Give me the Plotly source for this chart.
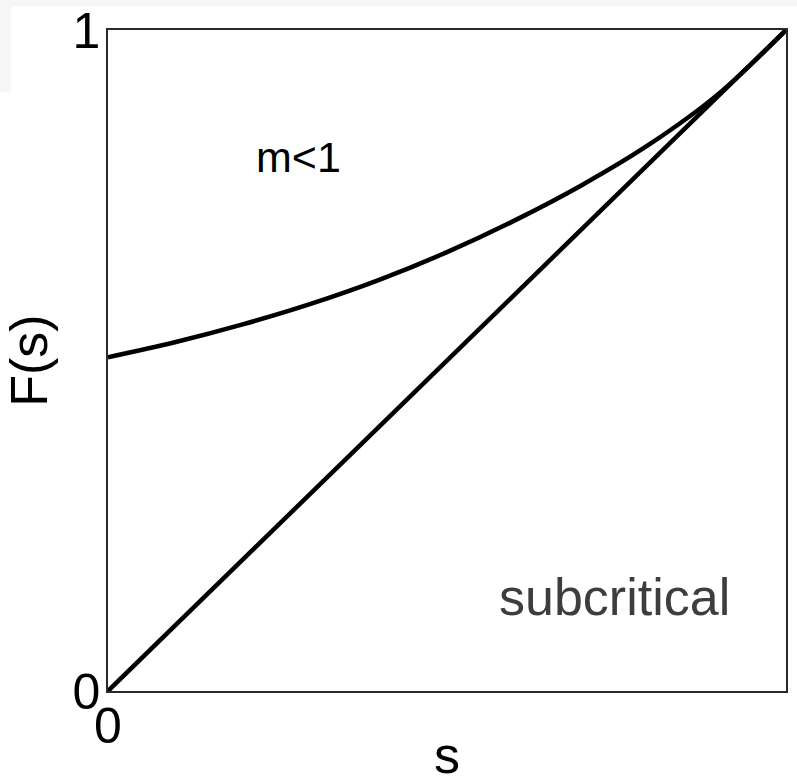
import plotly.graph_objects as go

# Generating function F(s) of a subcritical branching process (m < 1)
s_vals = [0.0, 0.1, 0.2, 0.3, 0.4, 0.5, 0.6, 0.7, 0.8, 0.9, 1.0]
F_vals = [0.505, 0.528, 0.555, 0.586, 0.622, 0.664, 0.712, 0.766, 0.828, 0.903, 1.0]

# Reference diagonal F(s) = s
diag_s = [0.0, 1.0]
diag_F = [0.0, 1.0]

tick_vals = [0, 1]
tick_text = ["0", "1"]

W, H = 797, 784
L, R, T, B = 108, 11, 30, 93
FONT = "Liberation Sans, Arial, sans-serif"

fig = go.Figure()
fig.add_trace(go.Scatter(x=diag_s, y=diag_F, mode="lines",
                         line=dict(color="black", width=4.5), cliponaxis=False,
                         hoverinfo="skip"))
fig.add_trace(go.Scatter(x=s_vals, y=F_vals, mode="lines", line_shape="spline",
                         line=dict(color="black", width=4.5, smoothing=1.0),
                         cliponaxis=False, hoverinfo="skip"))

pw, ph = W - L - R, H - T - B


def px_x(x):
    return (x - L) / pw


def px_y(y):
    return (H - B - y) / ph


# faint grey page edge along top and upper-left
fig.add_shape(type="rect", xref="paper", yref="paper", layer="below",
              x0=px_x(0), x1=px_x(W), y0=px_y(6), y1=px_y(-2),
              fillcolor="#f6f6f6", line_width=0)
fig.add_shape(type="rect", xref="paper", yref="paper", layer="below",
              x0=px_x(0), x1=px_x(11), y0=px_y(92), y1=px_y(0),
              fillcolor="#f6f6f6", line_width=0)

axis_common = dict(range=[0, 1], showgrid=False, zeroline=False, automargin=False,
                   showline=True, mirror=True, linecolor="#2a2a2a", linewidth=1.5,
                   tickvals=tick_vals, ticktext=tick_text, ticks="",
                   tickfont=dict(family=FONT, size=50, color="black"))

fig.update_layout(
    width=W, height=H, autosize=False,
    margin=dict(l=L, r=R, t=T, b=B, pad=0),
    paper_bgcolor="white", plot_bgcolor="white",
    showlegend=False,
    xaxis=dict(**axis_common, ticklabelstandoff=-10,
               title=dict(text="s", font=dict(family=FONT, size=52, color="black"),
                          standoff=8)),
    yaxis=dict(**axis_common, ticklabelstandoff=-4,
               title=dict(text="F(s)", font=dict(family=FONT, size=52, color="black"),
                          standoff=9)),
    annotations=[
        dict(x=px_x(298), y=px_y(157), xref="paper", yref="paper", text="m<1",
             showarrow=False, xanchor="center", yanchor="middle",
             font=dict(family=FONT, size=43, color="black")),
        dict(x=px_x(614), y=px_y(597), xref="paper", yref="paper", text="subcritical",
             showarrow=False, xanchor="center", yanchor="middle",
             font=dict(family=FONT, size=52, color="#3d3d3d")),
    ],
)

fig.write_html("out.html")
